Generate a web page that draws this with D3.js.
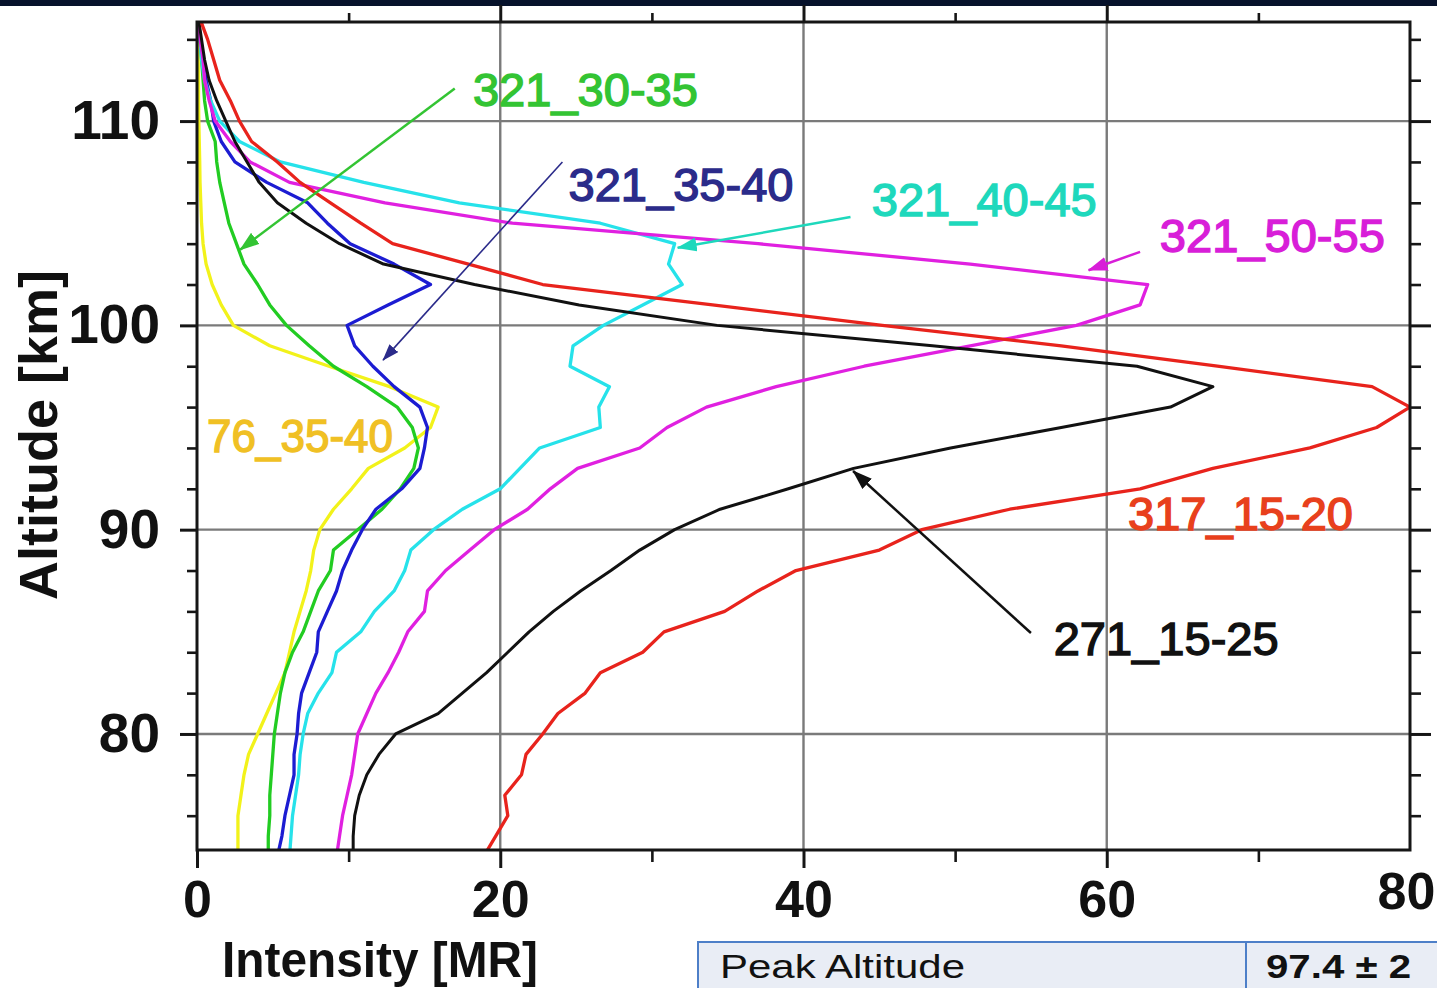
<!DOCTYPE html>
<html>
<head>
<meta charset="utf-8">
<script src="https://cdn.jsdelivr.net/npm/d3@7"></script>
<style>
  body { margin: 0; background: #fff; overflow: hidden; }
  svg { display: block; font-family: "Liberation Sans", Arial, sans-serif; }
</style>
</head>
<body>
<svg id="chart" width="1437" height="988"></svg>
<script>
// altitude grid (km) shared by all profiles, bottom to top
var altitudes = d3.range(74, 116);

// intensity [MR] at each altitude, 74 km ... 115 km
var red317 = [18.9,19.7,20.5,20.3,21.4,21.7,22.8,23.8,25.6,26.6,29.4,30.8,34.8,37.0,39.5,45.0,47.8,53.6,62.2,67.0,
              73.4,77.8,80.0,77.5,67.3,57.0,45.2,34.0,22.8,17.9,12.9,10.8,8.8,6.8,5.3,3.6,2.8,2.2,1.5,1.1,0.7,0.2];
var black271 = [10.3,10.3,10.4,10.7,11.2,12.0,13.1,15.9,17.5,19.1,20.5,21.9,23.5,25.3,27.3,29.2,31.5,34.5,39.0,43.3,
                49.7,57.0,64.2,67.0,62.0,48.5,34.3,25.2,18.3,12.3,9.4,7.2,5.3,4.1,3.3,2.5,1.9,1.3,0.8,0.5,0.3,0.1];
var magenta321 = [9.2,9.4,9.6,9.9,10.2,10.4,10.6,11.2,11.8,12.6,13.3,13.9,15.0,15.2,16.4,18.0,19.6,21.8,23.3,25.1,
                  29.2,31.0,33.6,38.2,44.0,51.0,58.0,62.2,62.7,51.0,37.0,20.8,12.4,6.1,3.5,2.2,1.2,0.8,0.5,0.4,0.2,0.1];
var cyan321 = [6.1,6.2,6.3,6.5,6.7,6.8,7.0,7.3,8.0,8.9,9.2,10.8,11.7,13.0,13.7,14.1,15.6,17.5,20.0,21.3,
               22.6,26.6,26.5,27.2,24.6,24.8,26.8,29.4,32.0,31.1,31.5,26.6,17.3,11.0,5.5,2.8,1.5,0.9,0.5,0.3,0.2,0.1];
var blue321 = [5.3,5.6,5.8,6.1,6.4,6.4,6.6,6.7,6.9,7.4,7.9,8.0,8.6,9.2,9.6,10.2,10.9,11.8,13.5,14.7,
               15.0,15.2,14.7,13.0,11.6,10.4,9.9,12.6,15.4,13.0,10.1,8.6,7.3,4.6,2.5,1.6,1.1,0.9,0.6,0.4,0.2,0.1];
var green321 = [4.7,4.7,4.8,4.8,4.9,5.0,5.1,5.3,5.5,5.8,6.3,7.0,7.5,8.0,8.8,9.0,10.6,12.2,13.4,14.3,
                14.6,14.2,13.2,11.2,9.0,7.4,5.9,4.8,4.0,3.1,2.6,2.1,1.8,1.5,1.3,1.2,0.7,0.5,0.4,0.3,0.2,0.1];
var yellow76 = [2.7,2.7,2.7,2.9,3.1,3.4,4.0,4.6,5.2,5.8,6.1,6.4,6.8,7.2,7.5,7.7,8.1,9.0,10.2,11.3,
                13.7,15.4,15.9,12.7,8.7,4.8,2.4,1.6,1.0,0.6,0.4,0.3,0.25,0.2,0.18,0.15,0.12,0.1,0.1,0.08,0.05,0];

// series names and colours
var seriesNames = ["76_35-40", "321_30-35", "321_35-40", "321_40-45", "321_50-55", "271_15-25", "317_15-20"];
var seriesValues = [yellow76, green321, blue321, cyan321, magenta321, black271, red317];
var lineColors = ["#f2f21a", "#22cc22", "#1c1cd2", "#26e2ea", "#e020e0", "#111111", "#e8231c"];

// annotations: label position [intensity, altitude], arrow from/to
var labelColors = ["#f0c024", "#33c433", "#2b2b8a", "#1ed8bc", "#d81ed8", "#111111", "#e8401c"];
var labelPos = [[0.66, 93.8], [18.2, 110.73], [24.5, 106.1], [44.5, 105.35], [63.5, 103.6], [56.5, 83.86], [61.4, 89.98]];
var arrowFrom = [null, [17.0, 111.6], [24.1, 108.0], [43.1, 105.3], [62.2, 103.6], [55.0, 84.94], null];
var arrowTo = [null, [2.84, 103.7], [12.27, 98.3], [31.7, 103.8], [58.8, 102.7], [43.27, 92.87], null];

// axes ticks
var xMajorTicks = [0, 20, 40, 60, 80];
var xMinorTicks = [10, 30, 50, 70];
var yMajorTicks = [80, 90, 100, 110];
var yMinorTicks = [76, 78, 82, 84, 86, 88, 92, 94, 96, 98, 102, 104, 106, 108, 112, 114];

var svg = d3.select("#chart");

var xScale = d3.scaleLinear().domain([0, 80]).range([197, 1410]);
var yScale = d3.scaleLinear().domain([74.32, 114.85]).range([850, 22]);

// dark band along the top of the slide
svg.append("rect").attr("x", 0).attr("y", 0).attr("width", 1437).attr("height", 6).attr("fill", "#06122b");

//grid
svg.append("g").attr("id", "grid")
   .selectAll("line.gx").data([20, 40, 60]).enter().append("line")
   .attr("x1", function(d){ return xScale(d); }).attr("x2", function(d){ return xScale(d); })
   .attr("y1", yScale(114.85)).attr("y2", yScale(74.32))
   .attr("stroke", "#7a7a7a").attr("stroke-width", 2.4);
svg.select("#grid")
   .selectAll("line.gy").data(yMajorTicks).enter().append("line")
   .attr("y1", function(d){ return yScale(d); }).attr("y2", function(d){ return yScale(d); })
   .attr("x1", xScale(0)).attr("x2", xScale(80))
   .attr("stroke", "#7a7a7a").attr("stroke-width", 2.4);

// clip for the profiles
svg.append("clipPath").attr("id", "plotclip").append("rect")
   .attr("x", xScale(0)).attr("y", yScale(114.85))
   .attr("width", xScale(80) - xScale(0)).attr("height", yScale(74.32) - yScale(114.85));

var line = d3.line()
             .x(function(d){ return xScale(d[1]); })
             .y(function(d){ return yScale(d[0]); });

svg.append("g").attr("clip-path", "url(#plotclip)")
   .selectAll("path").data(seriesValues).enter().append("path")
   .attr("d", function(vals){
      return line(altitudes.map(function(a, i){ return [a, vals[i]]; }));
   })
   .attr("fill", "none")
   .attr("stroke", function(d, i){ return lineColors[i]; })
   .attr("stroke-width", function(d, i){ return i == 5 ? 3 : 3.3; })
   .attr("stroke-linejoin", "round");

//axes
function styleAxis(g, width){
  g.select(".domain").remove();
  g.selectAll(".tick line").attr("stroke", "#161616").attr("stroke-width", width);
}
var ax;
ax = svg.append("g").attr("transform", "translate(" + xScale(0) + ",0)")
        .call(d3.axisLeft(yScale).tickValues(yMajorTicks).tickSize(17).tickPadding(20).tickFormat(d3.format("d")));
styleAxis(ax, 3);
ax.selectAll("text").attr("font-size", 55).attr("font-weight", "bold").attr("fill", "#111")
  .attr("font-family", "'Liberation Sans', Arial, sans-serif");
ax = svg.append("g").attr("transform", "translate(" + xScale(0) + ",0)")
        .call(d3.axisLeft(yScale).tickValues(yMinorTicks).tickSize(10).tickFormat(""));
styleAxis(ax, 2.6);
ax = svg.append("g").attr("transform", "translate(" + xScale(80) + ",0)")
        .call(d3.axisRight(yScale).tickValues(yMajorTicks).tickSize(21).tickFormat(""));
styleAxis(ax, 3);
ax = svg.append("g").attr("transform", "translate(" + xScale(80) + ",0)")
        .call(d3.axisRight(yScale).tickValues(yMinorTicks).tickSize(11).tickFormat(""));
styleAxis(ax, 2.6);

ax = svg.append("g").attr("transform", "translate(0," + yScale(74.32) + ")")
        .call(d3.axisBottom(xScale).tickValues(xMajorTicks).tickSize(18).tickPadding(12).tickFormat(d3.format("d")));
styleAxis(ax, 3);
ax.selectAll("text").attr("font-size", 52).attr("font-weight", "bold").attr("fill", "#111")
  .attr("font-family", "'Liberation Sans', Arial, sans-serif");
ax.selectAll(".tick").filter(function(d){ return d == 80; }).select("line").remove();
ax.selectAll(".tick").filter(function(d){ return d == 80; }).select("text").attr("x", -4).attr("y", 22);
ax = svg.append("g").attr("transform", "translate(0," + yScale(74.32) + ")")
        .call(d3.axisBottom(xScale).tickValues(xMinorTicks).tickSize(12).tickFormat(""));
styleAxis(ax, 2.6);
ax = svg.append("g").attr("transform", "translate(0," + yScale(114.85) + ")")
        .call(d3.axisTop(xScale).tickValues([20, 40, 60]).tickSize(17).tickFormat(""));
styleAxis(ax, 3);
ax = svg.append("g").attr("transform", "translate(0," + yScale(114.85) + ")")
        .call(d3.axisTop(xScale).tickValues(xMinorTicks).tickSize(9).tickFormat(""));
styleAxis(ax, 2.6);

// frame
svg.append("rect")
   .attr("x", xScale(0)).attr("y", yScale(114.85))
   .attr("width", xScale(80) - xScale(0)).attr("height", yScale(74.32) - yScale(114.85))
   .attr("fill", "none").attr("stroke", "#161616").attr("stroke-width", 3);

// axis titles
svg.append("text").text("Intensity [MR]")
   .attr("x", 222).attr("y", 977)
   .attr("textLength", 316).attr("lengthAdjust", "spacingAndGlyphs")
   .attr("font-size", 50).attr("font-weight", "bold").attr("fill", "#111");
svg.append("text").text("Altitude [km]")
   .attr("transform", "translate(57,435) rotate(-90)")
   .attr("text-anchor", "middle")
   .attr("textLength", 330).attr("lengthAdjust", "spacingAndGlyphs")
   .attr("font-size", 53).attr("font-weight", "bold").attr("fill", "#111");

// arrows
var defs = svg.append("defs");
labelColors.forEach(function(c, i){
  defs.append("marker").attr("id", "head" + i)
      .attr("markerUnits", "userSpaceOnUse")
      .attr("viewBox", "0 0 20 14").attr("refX", 19).attr("refY", 7)
      .attr("markerWidth", i == 2 ? 17 : 20).attr("markerHeight", i == 2 ? 12 : 14)
      .attr("orient", "auto")
      .append("path").attr("d", "M0,0 L20,7 L0,14 Z").attr("fill", c);
});
svg.append("g").selectAll("line").data(d3.range(seriesNames.length).filter(function(i){ return arrowFrom[i]; }))
   .enter().append("line")
   .attr("x1", function(i){ return xScale(arrowFrom[i][0]); })
   .attr("y1", function(i){ return yScale(arrowFrom[i][1]); })
   .attr("x2", function(i){ return xScale(arrowTo[i][0]); })
   .attr("y2", function(i){ return yScale(arrowTo[i][1]); })
   .attr("stroke", function(i){ return labelColors[i]; })
   .attr("stroke-width", function(i){ return i == 2 ? 1.6 : 2.5; })
   .attr("marker-end", function(i){ return "url(#head" + i + ")"; });

// series labels
svg.append("g").selectAll("text").data(seriesNames).enter().append("text")
   .text(function(d){ return d; })
   .attr("x", function(d, i){ return xScale(labelPos[i][0]); })
   .attr("y", function(d, i){ return yScale(labelPos[i][1]); })
   .attr("textLength", function(d, i){ return i == 0 ? 186 : 225; })
   .attr("lengthAdjust", "spacingAndGlyphs")
   .attr("font-size", 46)
   .attr("fill", function(d, i){ return labelColors[i]; })
   .attr("stroke", function(d, i){ return labelColors[i]; })
   .attr("stroke-width", 1.4);

// table fragment at the bottom
svg.append("rect").attr("x", 698).attr("y", 942).attr("width", 548).attr("height", 70)
   .attr("fill", "#e9edf5").attr("stroke", "#4d7fc8").attr("stroke-width", 2);
svg.append("rect").attr("x", 1246).attr("y", 942).attr("width", 220).attr("height", 70)
   .attr("fill", "#e9edf5").attr("stroke", "#4d7fc8").attr("stroke-width", 2);
svg.append("text").text("Peak Altitude").attr("x", 720).attr("y", 978)
   .attr("textLength", 245).attr("lengthAdjust", "spacingAndGlyphs")
   .attr("font-size", 33).attr("fill", "#111");
svg.append("text").text("97.4 \u00b1 2").attr("x", 1266).attr("y", 978)
   .attr("textLength", 145).attr("lengthAdjust", "spacingAndGlyphs")
   .attr("font-size", 33).attr("font-weight", "bold").attr("fill", "#111");
</script>
</body>
</html>
